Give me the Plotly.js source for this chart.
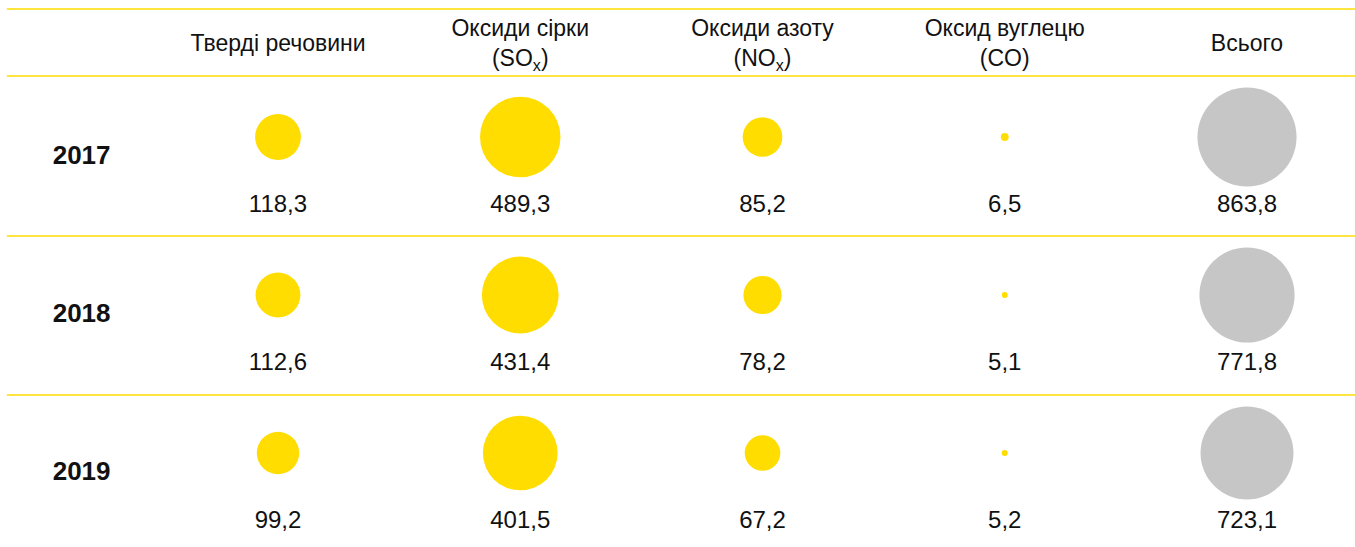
<!DOCTYPE html>
<html>
<head>
<meta charset="utf-8">
<script src="https://cdn.plot.ly/plotly-3.0.1.min.js"></script>
<style>html,body{margin:0;padding:0;background:#fff;}#chart{width:1355px;height:547px;}</style>
</head>
<body>
<div id="chart"></div>
<script>
// ---- data ----
const categories = ["Тверді речовини", "Оксиди сірки<br>(SO<sub>x</sub>)", "Оксиди азоту<br>(NO<sub>x</sub>)", "Оксид вуглецю<br>(CO)", "Всього"];
const years = ["2017", "2018", "2019"];
const solids = [118.3, 112.6, 99.2];
const sox = [489.3, 431.4, 401.5];
const nox = [85.2, 78.2, 67.2];
const co = [6.5, 5.1, 5.2];
const total = [863.8, 771.8, 723.1];

// ---- styling ----
const YELLOW = "#FFDD00";
const GREY = "#C6C6C6";
const TEXT = "#111111";
const FONT = "Liberation Sans, Arial, sans-serif";

const series = [solids, sox, nox, co, total];
const fmt = v => v.toFixed(1).replace(".", ",");
const diam = v => 15.6 * Math.pow(v, 0.3) - 19.5;

const traces = [];
series.forEach((vals, ci) => {
  const xs = years.map(() => ci);
  const ys = years.map((_, r) => r);
  traces.push({
    type: "scatter", mode: "markers", x: xs, y: ys, hoverinfo: "skip",
    marker: { size: vals.map(diam), sizemode: "diameter", color: ci === 4 ? GREY : YELLOW, line: { width: 0 }, opacity: 1 }
  });
  traces.push({
    type: "scatter", mode: "text", x: xs, y: ys.map(r => r + 0.437), hoverinfo: "skip",
    text: vals.map(fmt), textposition: "middle center",
    textfont: { family: FONT, size: 24, color: TEXT }
  });
});
// headers
traces.push({
  type: "scatter", mode: "text", x: categories.map((_, i) => i), y: categories.map(() => -0.582), hoverinfo: "skip",
  text: categories, textposition: "middle center",
  textfont: { family: FONT, size: 23, color: TEXT }
});
// year labels
traces.push({
  type: "scatter", mode: "text", x: years.map(() => -0.93), y: years.map((_, r) => r + 0.13), hoverinfo: "skip",
  text: years.map(y => "<b>" + y + "</b>"), textposition: "middle right",
  textfont: { family: FONT, size: 26, color: TEXT }
});

const shapes = [];
[-0.81, -0.386, 0.627, 1.633].forEach(yv => {
  shapes.push({ type: "line", xref: "paper", yref: "y", x0: 0.005, x1: 1, y0: yv, y1: yv, line: { color: YELLOW, width: 1.5 } });
});

const layout = {
  width: 1355, height: 547,
  margin: { l: 0, r: 0, t: 0, b: 0 },
  paper_bgcolor: "#ffffff", plot_bgcolor: "#ffffff",
  showlegend: false,
  xaxis: { range: [-278 / 242.25, (1355 - 278) / 242.25], visible: false, fixedrange: true },
  yaxis: { range: [(547 - 137) / 158, -137 / 158], visible: false, fixedrange: true },
  shapes: shapes
};

Plotly.newPlot("chart", traces, layout, { displayModeBar: false, staticPlot: true });
</script>
</body>
</html>
